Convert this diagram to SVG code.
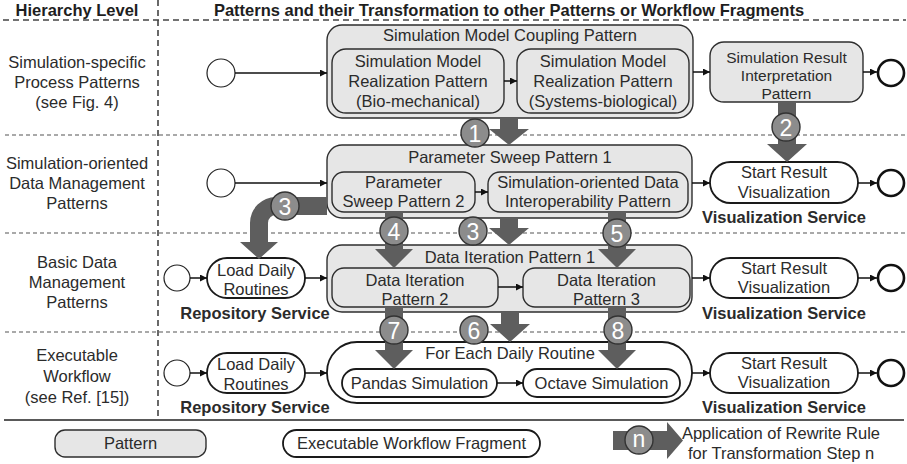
<svg xmlns="http://www.w3.org/2000/svg" width="907" height="464" viewBox="0 0 907 464">
  <defs>
    <marker id="ah" viewBox="0 0 10 10" refX="10" refY="5" markerWidth="7" markerHeight="7" markerUnits="userSpaceOnUse" orient="auto">
      <path d="M0,0 L10,5 L0,10 Z" fill="#111"/>
    </marker>
    <style>
      text { font-family: "Liberation Sans", Arial, Helvetica, sans-serif; font-size: 16.5px; fill: #2b2b2b; text-anchor: middle; }
      .hdr { font-weight: bold; fill: #1e1e1e; }
      .svc { font-weight: bold; fill: #2b2b2b; }
      .tight { font-size: 15.5px; }
      .pat { fill: #e6e6e6; stroke: #2e2e2e; stroke-width: 1.4; }
      .frag { fill: #ffffff; stroke: #1a1a1a; stroke-width: 1.8; }
      .start { fill: #ffffff; stroke: #222; stroke-width: 1.2; }
      .end { fill: #ffffff; stroke: #111; stroke-width: 2.6; }
      .sep { stroke: #555; stroke-width: 1.2; stroke-dasharray: 4 3; fill: none; }
      .hsep { stroke: #444; stroke-width: 1.6; stroke-dasharray: 6 4; fill: none; }
      .conn { stroke: #111; stroke-width: 1.5; fill: none; marker-end: url(#ah); }
      .rule { fill: #5e5e5e; }
      .step { fill: #8c8c8c; stroke: #333; stroke-width: 1.4; }
      .num { font-size: 23px; fill: #ffffff; }
    </style>
  </defs>

  <!-- grid: header rule, row separators, column separator -->
  <g id="grid">
    <line class="hsep" x1="3" y1="20" x2="906" y2="20"/>
    <line class="sep" x1="5" y1="135" x2="905" y2="135"/>
    <line class="sep" x1="5" y1="233" x2="905" y2="233"/>
    <line class="sep" x1="5" y1="332" x2="905" y2="332"/>
    <line class="hsep" x1="158" y1="0" x2="158" y2="420" stroke-width="1.4" stroke-dasharray="5 4"/>
    <line x1="4" y1="420" x2="904" y2="420" stroke="#222" stroke-width="1.6"/>
  </g>

  <!-- headers and hierarchy labels -->
  <g id="labels">
    <text class="hdr" x="77" y="16">Hierarchy Level</text>
    <text class="hdr" x="509" y="16">Patterns and their Transformation to other Patterns or Workflow Fragments</text>
    <text x="77" y="68">Simulation-specific</text>
    <text x="77" y="88">Process Patterns</text>
    <text x="77" y="108">(see Fig. 4)</text>
    <text x="77" y="169">Simulation-oriented</text>
    <text x="77" y="189">Data Management</text>
    <text x="77" y="209">Patterns</text>
    <text x="77" y="268">Basic Data</text>
    <text x="77" y="288">Management</text>
    <text x="77" y="308">Patterns</text>
    <text x="77" y="361">Executable</text>
    <text x="77" y="382">Workflow</text>
    <text x="77" y="403">(see Ref. [15])</text>
  </g>

  <!-- row 1: simulation-specific process patterns -->
  <g id="start1"><circle class="start" cx="221" cy="73" r="14"/></g>
  <g id="coupling">
    <rect class="pat" x="327" y="25" width="366" height="93" rx="15"/>
    <text x="510" y="41">Simulation Model Coupling Pattern</text>
  </g>
  <g id="realizationBio">
    <rect class="pat" x="332" y="49" width="172" height="64" rx="14"/>
    <text x="418" y="67">Simulation Model</text>
    <text x="418" y="87">Realization Pattern</text>
    <text x="418" y="107">(Bio-mechanical)</text>
  </g>
  <g id="realizationSys">
    <rect class="pat" x="517" y="49" width="172" height="64" rx="14"/>
    <text x="603" y="67">Simulation Model</text>
    <text x="603" y="87">Realization Pattern</text>
    <text x="603" y="107">(Systems-biological)</text>
  </g>
  <g id="interpretation">
    <rect class="pat" x="710" y="42" width="153" height="60" rx="14"/>
    <text class="tight" x="786.5" y="63">Simulation Result</text>
    <text class="tight" x="786.5" y="81">Interpretation</text>
    <text class="tight" x="786.5" y="99">Pattern</text>
  </g>
  <g id="end1"><circle class="end" cx="891" cy="73" r="13"/></g>

  <!-- row 2: simulation-oriented data management patterns -->
  <g id="start2"><circle class="start" cx="221" cy="183" r="14"/></g>
  <g id="sweep1">
    <rect class="pat" x="327" y="145" width="365" height="73" rx="15"/>
    <text x="510" y="163">Parameter Sweep Pattern 1</text>
  </g>
  <g id="sweep2">
    <rect class="pat" x="332" y="172" width="143" height="40" rx="12"/>
    <text x="403.5" y="188">Parameter</text>
    <text x="403.5" y="207">Sweep Pattern 2</text>
  </g>
  <g id="interop">
    <rect class="pat" x="488" y="172" width="200" height="40" rx="12"/>
    <text x="588" y="188">Simulation-oriented Data</text>
    <text x="588" y="207">Interoperability Pattern</text>
  </g>
  <g id="vis2">
    <rect class="frag" x="710" y="162" width="148" height="41" rx="20.5"/>
    <text x="784" y="178">Start Result</text>
    <text x="784" y="198">Visualization</text>
    <text class="svc" x="784" y="223">Visualization Service</text>
  </g>
  <g id="end2"><circle class="end" cx="891" cy="183" r="13"/></g>

  <!-- row 3: basic data management patterns -->
  <g id="start3"><circle class="start" cx="177" cy="278" r="13"/></g>
  <g id="load3">
    <rect class="frag" x="207" y="258" width="98" height="40" rx="20"/>
    <text x="256" y="276">Load Daily</text>
    <text x="256" y="295">Routines</text>
    <text class="svc" x="255" y="319">Repository Service</text>
  </g>
  <g id="iteration1">
    <rect class="pat" x="327" y="245" width="365" height="67" rx="15"/>
    <text x="510" y="263">Data Iteration Pattern 1</text>
  </g>
  <g id="iteration2">
    <rect class="pat" x="332" y="268" width="166" height="39" rx="12"/>
    <text x="415" y="286">Data Iteration</text>
    <text x="415" y="305">Pattern 2</text>
  </g>
  <g id="iteration3">
    <rect class="pat" x="523" y="268" width="167" height="39" rx="12"/>
    <text x="606.5" y="286">Data Iteration</text>
    <text x="606.5" y="305">Pattern 3</text>
  </g>
  <g id="vis3">
    <rect class="frag" x="710" y="258" width="148" height="40" rx="20"/>
    <text x="784" y="274">Start Result</text>
    <text x="784" y="293">Visualization</text>
    <text class="svc" x="784" y="319">Visualization Service</text>
  </g>
  <g id="end3"><circle class="end" cx="891" cy="278" r="13"/></g>

  <!-- row 4: executable workflow -->
  <g id="start4"><circle class="start" cx="177" cy="373" r="13"/></g>
  <g id="load4">
    <rect class="frag" x="207" y="353" width="98" height="40" rx="20"/>
    <text x="256" y="370">Load Daily</text>
    <text x="256" y="390">Routines</text>
    <text class="svc" x="255" y="413">Repository Service</text>
  </g>
  <g id="forEach">
    <rect class="frag" x="327" y="342" width="365" height="61" rx="30"/>
    <text x="510" y="359">For Each Daily Routine</text>
  </g>
  <g id="pandas">
    <rect class="frag" x="342" y="369" width="155" height="28" rx="14"/>
    <text x="419.5" y="389">Pandas Simulation</text>
  </g>
  <g id="octave">
    <rect class="frag" x="523" y="369" width="157" height="28" rx="14"/>
    <text x="601.5" y="389">Octave Simulation</text>
  </g>
  <g id="vis4">
    <rect class="frag" x="710" y="353" width="148" height="40" rx="20"/>
    <text x="784" y="369">Start Result</text>
    <text x="784" y="388">Visualization</text>
    <text class="svc" x="784" y="413">Visualization Service</text>
  </g>
  <g id="end4"><circle class="end" cx="891" cy="373" r="13"/></g>

  <!-- sequence flow connectors -->
  <g id="connectors">
    <line class="conn" x1="235" y1="73" x2="327" y2="73"/>
    <line class="conn" x1="504" y1="81" x2="517" y2="81"/>
    <line class="conn" x1="693" y1="72" x2="710" y2="72"/>
    <line class="conn" x1="863" y1="72" x2="877" y2="72"/>

    <line class="conn" x1="235" y1="183" x2="327" y2="183"/>
    <line class="conn" x1="475" y1="192" x2="488" y2="192"/>
    <line class="conn" x1="692" y1="183" x2="710" y2="183"/>
    <line class="conn" x1="858" y1="183" x2="877" y2="183"/>

    <line class="conn" x1="190" y1="278" x2="207" y2="278"/>
    <line class="conn" x1="305" y1="278" x2="327" y2="278"/>
    <line class="conn" x1="498" y1="287" x2="523" y2="287"/>
    <line class="conn" x1="692" y1="278" x2="710" y2="278"/>
    <line class="conn" x1="858" y1="278" x2="877" y2="278"/>

    <line class="conn" x1="190" y1="373" x2="207" y2="373"/>
    <line class="conn" x1="305" y1="373" x2="327" y2="373"/>
    <line class="conn" x1="497" y1="383" x2="523" y2="383"/>
    <line class="conn" x1="692" y1="373" x2="710" y2="373"/>
    <line class="conn" x1="858" y1="373" x2="877" y2="373"/>
  </g>

  <!-- rewrite rule steps -->
  <g id="rules">
    <polygon class="rule" points="500,118 518,118 518,129 529,129 509,145 489,129 500,129"/>
    <polygon class="rule" points="778,102 796,102 796,144 807,144 787,162 767,144 778,144"/>
    <path class="rule" d="M327,197 L276,197 A26,26 0 0 0 250,223 L250,242 L240,242 L259,259 L278,242 L268,242 L268,223 A8,8 0 0 1 276,215 L327,215 Z"/>
    <polygon class="rule" points="500,218 518,218 518,228 529,228 509,245 489,228 500,228"/>
    <polygon class="rule" points="385,212 403,212 403,249 413,249 394,268 375,249 385,249"/>
    <polygon class="rule" points="608,212 626,212 626,249 636,249 617,268 598,249 608,249"/>
    <polygon class="rule" points="501,312 519,312 519,324 530,324 510,342 490,324 501,324"/>
    <polygon class="rule" points="385,307 403,307 403,350 413,350 394,369 375,350 385,350"/>
    <polygon class="rule" points="608,307 626,307 626,350 636,350 617,369 598,350 608,350"/>

    <circle class="step" cx="475" cy="133" r="14"/><text class="num" x="475" y="141.5">1</text>
    <circle class="step" cx="786" cy="127" r="14"/><text class="num" x="786" y="135.5">2</text>
    <circle class="step" cx="285" cy="206" r="14"/><text class="num" x="285" y="214.5">3</text>
    <circle class="step" cx="473" cy="231" r="14"/><text class="num" x="473" y="239.5">3</text>
    <circle class="step" cx="394" cy="231" r="14"/><text class="num" x="394" y="239.5">4</text>
    <circle class="step" cx="617" cy="233" r="14"/><text class="num" x="617" y="241.5">5</text>
    <circle class="step" cx="474" cy="330" r="14"/><text class="num" x="474" y="338.5">6</text>
    <circle class="step" cx="394" cy="330" r="14"/><text class="num" x="394" y="338.5">7</text>
    <circle class="step" cx="618" cy="330" r="14"/><text class="num" x="618" y="338.5">8</text>
  </g>

  <!-- legend -->
  <g id="legendPattern">
    <rect class="pat" x="55" y="430" width="151" height="27" rx="10"/>
    <text x="130.5" y="449">Pattern</text>
  </g>
  <g id="legendFragment">
    <rect class="frag" x="283" y="430" width="257" height="27" rx="13.5"/>
    <text x="411.5" y="449">Executable Workflow Fragment</text>
  </g>
  <g id="legendRule">
    <polygon class="rule" points="613,431 667,431 667,422 683,440.5 667,459 667,450 613,450"/>
    <circle class="step" cx="639" cy="440" r="14"/><text class="num" x="639" y="447">n</text>
    <text x="781" y="439">Application of Rewrite Rule</text>
    <text x="781" y="459">for Transformation Step n</text>
  </g>
</svg>
